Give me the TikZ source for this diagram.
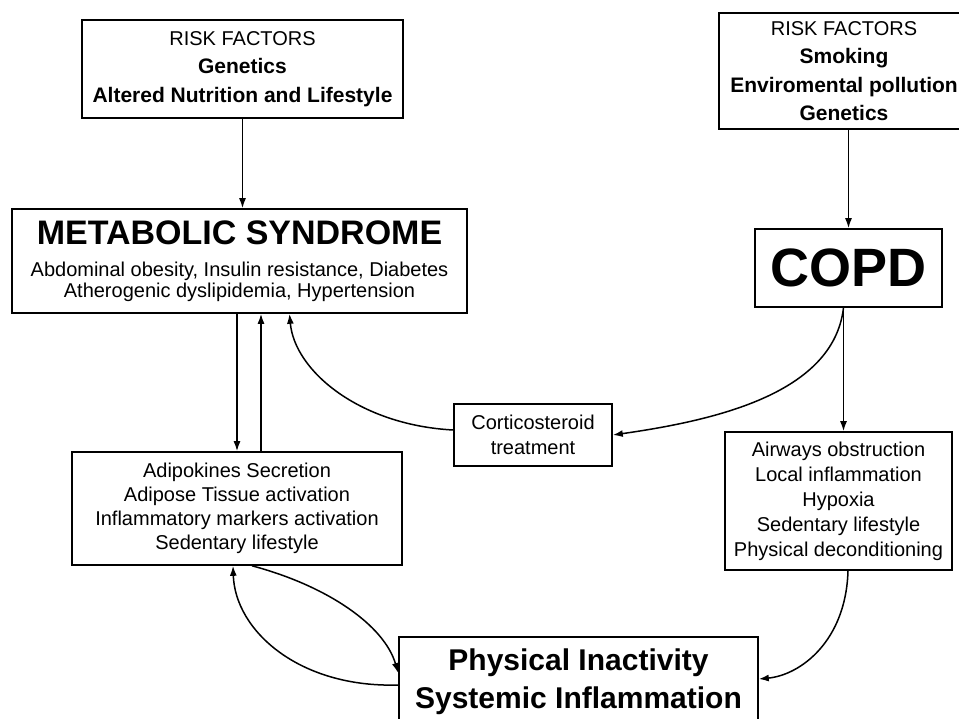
\documentclass[tikz,border=0pt]{standalone}
\usepackage{fontspec}
\setmainfont{Liberation Sans}
\usetikzlibrary{arrows.meta}

\tikzset{
  box/.style={draw, line width=1.6pt, inner sep=0pt, align=center},
  arr/.style={-{Latex[length=10pt,width=7pt]}, line width=1.5pt},
}

\begin{document}
\begin{tikzpicture}[x=1pt, y=-1pt]
  \useasboundingbox (0,0) rectangle (959,719);
  \clip (0,0) rectangle (959,719);

  % Risk factors on both sides
  \node[box, minimum width=321pt, minimum height=98pt, font=\fontsize{20}{28.5}\selectfont] (rf1) at (242.5,69)
    {RISK FACTORS\\ {\fontsize{21}{28.5}\selectfont\bfseries Genetics}\\ {\fontsize{21}{28.5}\selectfont\bfseries Altered Nutrition and Lifestyle}};
  \node[box, minimum width=250pt, minimum height=116pt, font=\fontsize{20}{28.5}\selectfont] (rf2) at (844,71)
    {RISK FACTORS\\ {\fontsize{21}{28.5}\selectfont\bfseries Smoking}\\ {\fontsize{21}{28.5}\selectfont\bfseries Enviromental pollution}\\ {\fontsize{21}{28.5}\selectfont\bfseries Genetics}};

  % The two diseases
  \node[box, minimum width=455pt, minimum height=104pt, font=\fontsize{20}{21}\selectfont] (ms) at (239.5,261)
    {{\fontsize{34}{36}\selectfont\bfseries METABOLIC SYNDROME}\\[11pt] Abdominal obesity, Insulin resistance, Diabetes\\ Atherogenic dyslipidemia, Hypertension};
  \node[box, minimum width=187pt, minimum height=78pt, font=\fontsize{54}{60}\selectfont\bfseries] (copd) at (848.5,268) {COPD};

  % Middle row
  \node[box, minimum width=158pt, minimum height=62pt, font=\fontsize{20}{25}\selectfont] (cortico) at (533,435)
    {Corticosteroid\\ treatment};
  \node[box, minimum width=330pt, minimum height=113pt, font=\fontsize{20}{24}\selectfont] (adipo) at (237,508.5)
    {Adipokines Secretion\\ Adipose Tissue activation\\ Inflammatory markers activation\\ Sedentary lifestyle};
  \node[box, minimum width=227pt, minimum height=138pt, font=\fontsize{20}{25}\selectfont] (airway) at (838.5,501)
    {Airways obstruction\\ Local inflammation\\ Hypoxia\\ Sedentary lifestyle\\ Physical deconditioning};

  % Common outcome
  \node[box, minimum width=359pt, minimum height=90pt, font=\fontsize{30}{38}\selectfont\bfseries] (pi) at (578.5,682)
    {Physical Inactivity\\ Systemic Inflammation};

  % Straight arrows
  \draw[arr] (rf1.south) -- (rf1.south |- ms.north);
  \draw[arr] (copd.north |- rf2.south) -- (copd.north);
  \draw[arr] (ms.south -| adipo.north) -- (adipo.north);
  \draw[arr] ([xshift=24pt]adipo.north) -- ([xshift=24pt]adipo.north |- ms.south);
  \coordinate (copdout) at ([xshift=-5pt]copd.south);
  \draw[arr] (copdout) -- (copdout |- airway.north);

  % Curved arrows
  \draw[arr] (copdout) .. controls +(-10,85) and +(105,-15) .. (cortico.east);
  \draw[arr] ([yshift=5pt]cortico.west) .. controls +(-94,-5) and +(5,57) .. ([xshift=50pt]ms.south);
  \draw[arr] ([xshift=15pt]adipo.south) .. controls +(75,20) and +(-14,-48) .. ([yshift=9pt]pi.west);
  \draw[arr] ([yshift=-3pt]pi.west) .. controls +(-99,3) and +(2,65) .. ([xshift=-4pt]adipo.south);
  \draw[arr] ([xshift=9.5pt]airway.south) .. controls +(-2,70) and +(42,-4) .. ([yshift=3pt]pi.east);
\end{tikzpicture}
\end{document}
